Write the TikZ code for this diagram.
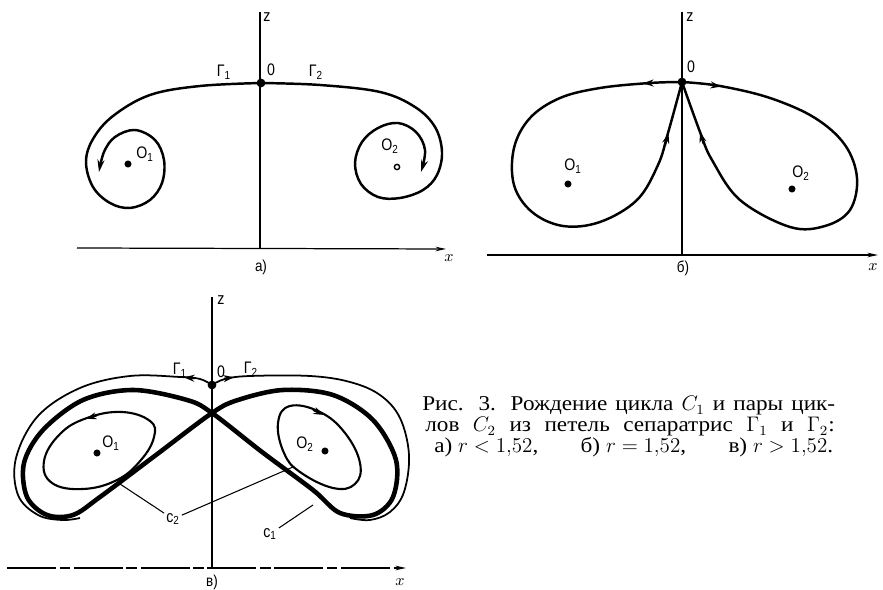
\documentclass[tikz,border=0pt]{standalone}
\usepackage{fontspec}
\setmainfont{Liberation Serif}
\newfontfamily\capfont[FakeStretch=1.1]{Liberation Serif}
\newfontfamily\labfont[FakeStretch=0.85]{Liberation Sans}
\usetikzlibrary{arrows.meta}
\tikzset{
  axis/.style={line width=0.7pt},
  axisarrow/.style={line width=0.7pt,-{Stealth[length=6pt,width=2.6pt]}},
  orbit/.style={line width=1.4pt,line join=round},
  limitcycle/.style={line width=2.6pt,line join=round},
  separatrix/.style={line width=1pt},
  smallcycle/.style={line width=1.2pt},
  leader/.style={line width=0.6pt},
  lbl/.style={font=\labfont\fontsize{9.5}{11}\selectfont,inner sep=1pt},
  panel/.style={font=\labfont\fontsize{9}{11}\selectfont,inner sep=1pt},
  eq/.style={circle,fill=black,inner sep=0pt,minimum size=5pt},
  focus/.style={circle,fill=black,inner sep=0pt,minimum size=4pt},
  hollow/.style={circle,draw=black,line width=0.8pt,fill=white,inner sep=0pt,minimum size=3pt},
  flowtip/.style={line width=1pt,-{Stealth[length=6pt,width=4pt]}},
  endtip/.style={-{Stealth[length=7pt,width=4pt]}},
  caprow/.style={anchor=base west,inner sep=0pt,font=\capfont\fontsize{12}{12}\selectfont}
}

\begin{document}
\begin{tikzpicture}[x=0.02cm,y=-0.02cm]
  \useasboundingbox (0,0) rectangle (883,590);

  % a)
  \coordinate (ztopA) at (260,12);
  \coordinate (zbotA) at (260,248);
  \coordinate (xleftA) at (77,248);
  \coordinate (xrightA) at (446,249);
  \draw[axis] (ztopA) -- (zbotA);
  \draw[axisarrow] (xleftA) -- (xrightA);
  \draw[orbit,endtip] plot[smooth,tension=0.6] coordinates {(261,83) (200,86) (150,95)
    (113,116) (93,139) (86,162) (93,187) (110,203) (130,208) (150,200) (162,183)
    (164,160) (155,140) (135,130) (115,137) (104,152) (99,172)};
  \draw[orbit,endtip] plot[smooth,tension=0.6] coordinates {(261,83) (320,85) (380,92)
    (415,107) (435,127) (442,152) (437,175) (423,190) (400,198) (378,197) (361,184)
    (355,163) (362,142) (378,128) (398,123) (416,132) (425,150) (421,172)};
  \node[eq] (OA) at (261,83) {};
  \node[focus] (O1A) at (128,164) {};
  \node[hollow] (O2A) at (397,167) {};
  \node[lbl] (zA) at (267,17) {z};
  \node[lbl] (oA) at (271,70) {0};
  \node[lbl] (g1A) at (224,72) {Γ\textsubscript{1}};
  \node[lbl] (g2A) at (316,72) {Γ\textsubscript{2}};
  \node[lbl] (o1A) at (145,154) {O\textsubscript{1}};
  \node[lbl] (o2A) at (390,146) {O\textsubscript{2}};
  \node[lbl] (xA) at (449,258) {$x$};
  \node[panel] (capA) at (261,267) {а)};

  % b)
  \coordinate (ztopB) at (682,12);
  \coordinate (zbotB) at (682,255);
  \coordinate (xleftB) at (487,255);
  \coordinate (xrightB) at (878,255);
  \draw[axis] (ztopB) -- (zbotB);
  \draw[axisarrow] (xleftB) -- (xrightB);
  \draw[orbit] plot[smooth,tension=0.6] coordinates {(682,82)
    (650,83) (600,88) (560,98) (530,118) (514,148) (514,185) (532,212) (563,226)
    (600,222) (637,200) (658,165) (668,133) (682,82)};
  \draw[orbit] plot[smooth,tension=0.6] coordinates {(682,82)
    (720,86) (770,98) (815,118) (845,145) (857,178) (850,210) (825,226) (790,227)
    (740,200) (712,160) (700,132) (682,82)};
  \draw[flowtip] (653,83) -- (643,83.4);
  \draw[flowtip] (665,146) -- (668.5,133);
  \draw[flowtip] (711,85) -- (721,86.6);
  \draw[flowtip] (703.5,144) -- (700,132);
  \node[eq] (OB) at (682,82) {};
  \node[focus] (O1B) at (568,184) {};
  \node[focus] (O2B) at (792,189) {};
  \node[lbl] (zB) at (690,17) {z};
  \node[lbl] (oB) at (691,67) {0};
  \node[lbl] (o1B) at (573,166) {O\textsubscript{1}};
  \node[lbl] (o2B) at (801,173) {O\textsubscript{2}};
  \node[lbl] (xB) at (873,267) {$x$};
  \node[panel] (capB) at (683,268) {б)};

  % c)
  \coordinate (ztopC) at (212,297);
  \coordinate (zbotC) at (212,568);
  \coordinate (xleftC) at (7,568);
  \coordinate (xrightC) at (406,568);
  \draw[axis] (ztopC) -- (zbotC);
  \draw[axisarrow,dash pattern=on 28pt off 2pt on 6pt off 2pt] (xleftC) -- (xrightC);
  \draw[limitcycle] plot[smooth cycle,tension=0.55] coordinates {(212,413) (238,400)
    (283,390) (333,395) (373,420) (396,460) (393,497) (373,515) (340,513) (313,490)
    (262,452) (212,413) (187,400) (133,390) (83,400) (43,430) (24,463) (27,497)
    (47,515) (73,515) (100,497) (156,455)};
  \draw[separatrix] plot[smooth,tension=0.6] coordinates {(212,385)
    (200,379) (180,377) (130,376) (80,388) (38,416) (16,458) (18,495) (38,515)
    (62,520) (80,518)};
  \draw[separatrix] plot[smooth,tension=0.6] coordinates {(212,385)
    (225,379) (250,376) (310,376) (350,382) (380,395) (400,418) (409,455) (404,492)
    (390,512) (370,520) (350,518)};
  \draw[smallcycle] plot[smooth cycle,tension=0.7] coordinates {(154,437)
    (150,421) (122,412) (87,418) (60,434) (44,461) (52,483) (83,489) (117,480) (141,460)};
  \draw[smallcycle] plot[smooth cycle,tension=0.7] coordinates {(278,423)
    (290,406) (320,412) (345,433) (360,463) (355,484) (333,488) (300,472) (284,453)};
  \draw[flowtip] (195,378.3) -- (184,377.4);
  \draw[flowtip] (224,378.6) -- (234,377.2);
  \draw[flowtip] (97,415.5) -- (86,418.8);
  \draw[flowtip] (313,410) -- (324,415);
  \node[eq] (OC) at (212,385) {};
  \node[focus] (O1C) at (97,453) {};
  \node[focus] (O2C) at (325,451) {};
  \node[lbl] (zC) at (221,300) {z};
  \node[lbl] (oC) at (221,372) {0};
  \node[lbl] (g1C) at (180,370) {Γ\textsubscript{1}};
  \node[lbl] (g2C) at (251,369) {Γ\textsubscript{2}};
  \node[lbl] (o1C) at (111,443) {O\textsubscript{1}};
  \node[lbl] (o2C) at (305,444) {O\textsubscript{2}};
  \node[lbl] (c2C) at (173,519) {c\textsubscript{2}};
  \node[lbl] (c1C) at (270,534) {c\textsubscript{1}};
  \coordinate (c2left) at (117,482);
  \coordinate (c2right) at (293,467);
  \coordinate (c1pt) at (313,505);
  \draw[leader] (c2C) -- (c2left);
  \draw[leader] (c2C) -- (c2right);
  \draw[leader] (c1C) -- (c1pt);
  \node[lbl] (xC) at (400,582) {$x$};
  \node[panel] (capC) at (212,582) {в)};

  % caption
  \node[caprow] (row1) at (422,411) {\makebox[235pt][s]{Рис. 3. Рождение цикла $C_1$ и пары цик-}};
  \node[caprow] (row2) at (425,432) {\makebox[233pt][s]{лов $C_2$ из петель сепаратрис $\Gamma_1$ и $\Gamma_2$:}};
  \node[caprow] (row3) at (434,453) {\makebox[227pt][l]{а) $r<1{,}52$,\hfill б) $r=1{,}52$,\hfill в) $r>1{,}52$.}};
\end{tikzpicture}
\end{document}
